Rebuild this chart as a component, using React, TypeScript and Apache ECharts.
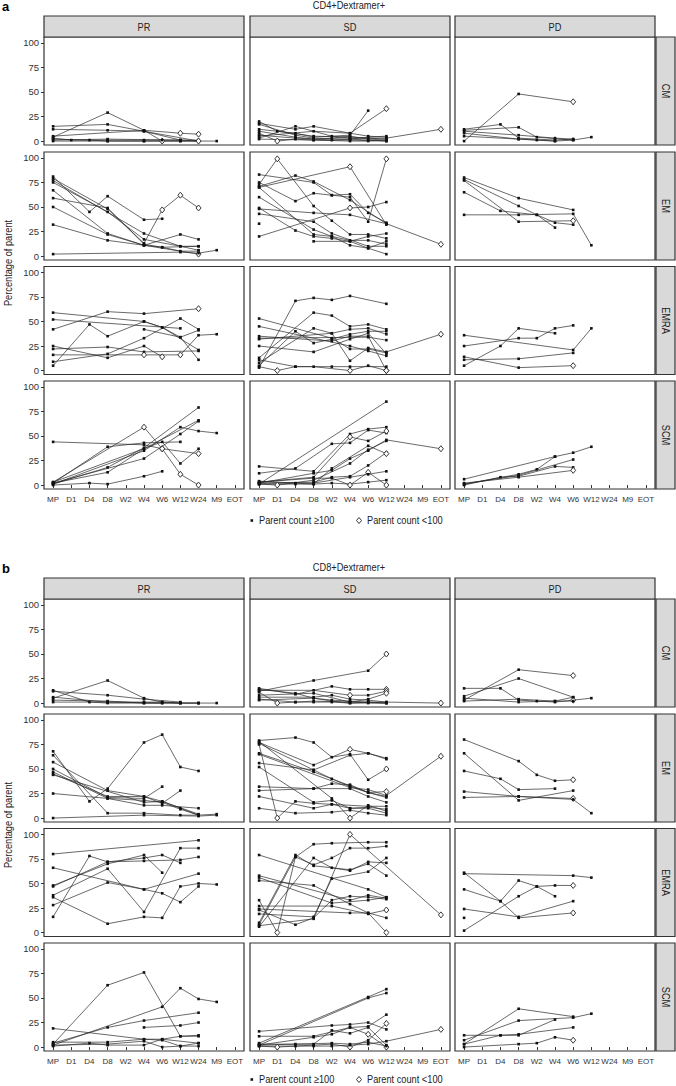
import React, { useEffect, useRef } from "react";
import * as echarts from "echarts";

const TIMEPOINTS = ["MP", "D1", "D4", "D8", "W2", "W4", "W6", "W12", "W24", "M9", "EOT"];
const RESPONSES = ["PR", "SD", "PD"];
const SUBSETS = ["CM", "EM", "EMRA", "SCM"];
const PANEL_LABELS = ["a", "b"];
const PANEL_TITLES = ["CD4+Dextramer+", "CD8+Dextramer+"];
const Y_TICKS = [0, 25, 50, 75, 100];
const LEGEND_LABELS = ["Parent count \u2265100", "Parent count <100"];
const Y_TITLE = "Percentage of parent";

// each line = one subject; point = [timepoint index, percentage, 1 if parent count < 100]
type Pt = number[];
type Line = Pt[];

// ---------- CD4+Dextramer+ ----------
const CD4_PR_CM: Line[] = [
  [[0, 15], [3, 17], [5, 10], [7, 1], [8, 1]],
  [[0, 12], [3, 11], [5, 10], [8, 0]],
  [[0, 4], [3, 29], [5, 11], [6, 0, 1]],
  [[0, 5], [5, 11], [7, 8, 1], [8, 7, 1]],
  [[0, 2], [2, 1], [3, 0], [5, 0], [7, 0], [9, 0]],
  [[0, 0], [3, 0], [5, 0], [7, 0], [8, 0]],
  [[0, 3], [1, 1], [3, 1], [5, 1], [6, 1], [7, 1]],
  [[0, 1], [3, 2], [7, 1], [8, 0, 1]],
];
const CD4_SD_CM: Line[] = [
  [[0, 18], [2, 12], [3, 15], [5, 8], [6, 5], [7, 4]],
  [[0, 20], [1, 10], [3, 5], [5, 4], [7, 2]],
  [[0, 17], [2, 6], [3, 3], [5, 2], [6, 1], [7, 0]],
  [[0, 12], [2, 8], [3, 4], [5, 6], [6, 31]],
  [[0, 5], [3, 10], [5, 8], [7, 33, 1]],
  [[0, 8], [1, 0, 1], [2, 2], [3, 1], [5, 1], [7, 0]],
  [[0, 3], [2, 15], [4, 5], [5, 3], [7, 3], [10, 12, 1]],
  [[0, 2], [3, 1], [5, 0], [6, 0], [7, 1]],
  [[0, 10], [2, 4], [3, 2], [4, 3], [5, 5], [6, 2], [7, 1]],
  [[0, 6], [2, 3], [4, 1], [5, 2], [6, 4], [7, 5]],
];
const CD4_PD_CM: Line[] = [
  [[0, 0], [3, 48], [6, 40, 1]],
  [[0, 12], [2, 17], [3, 3], [5, 1], [6, 2]],
  [[0, 11], [3, 14], [4, 4], [6, 1], [7, 4]],
  [[0, 10], [3, 6], [5, 3], [6, 2]],
  [[0, 8], [3, 2], [4, 1], [5, 0]],
  [[0, 5], [3, 2], [5, 0], [6, 1]],
];
const CD4_PR_EM: Line[] = [
  [[0, 81], [2, 45], [3, 61], [5, 37], [6, 38]],
  [[0, 79], [3, 48], [5, 13], [6, 47, 1], [7, 62, 1], [8, 49, 1]],
  [[0, 77], [5, 23], [7, 10], [8, 10]],
  [[0, 75], [3, 45], [5, 17], [7, 10], [8, 6]],
  [[0, 67], [3, 23], [5, 11], [7, 22], [8, 17]],
  [[0, 59], [3, 49], [5, 12], [6, 9], [7, 5], [8, 5]],
  [[0, 50], [3, 22], [5, 11], [6, 9], [8, 10]],
  [[0, 32], [3, 16], [5, 11], [8, 2, 1]],
  [[0, 2], [7, 4], [8, 3], [9, 6]],
];
const CD4_SD_EM: Line[] = [
  [[0, 73], [1, 99, 1], [3, 51], [4, 36], [5, 22], [6, 22], [7, 18]],
  [[0, 71], [2, 82], [3, 76], [5, 57], [7, 33]],
  [[0, 83], [3, 75], [4, 62], [5, 63], [6, 44], [7, 34]],
  [[0, 70], [5, 91, 1], [7, 32]],
  [[0, 20], [5, 49, 1], [6, 50], [7, 55]],
  [[0, 75], [2, 56], [3, 64], [4, 62], [5, 60], [6, 35], [7, 99, 1]],
  [[0, 49], [2, 26], [3, 20], [4, 18], [5, 15], [6, 8], [7, 2]],
  [[0, 43], [3, 35], [4, 23], [6, 10], [7, 10]],
  [[0, 33]],
  [[0, 60], [3, 27], [4, 20], [5, 16], [6, 16], [7, 12]],
  [[0, 70], [3, 22], [4, 20], [5, 11], [6, 8], [7, 15]],
  [[3, 15], [5, 15], [6, 20], [7, 23]],
  [[0, 48], [3, 44], [5, 42], [7, 33], [10, 12, 1]],
];
const CD4_PD_EM: Line[] = [
  [[0, 80], [3, 59], [6, 47]],
  [[0, 78], [3, 51], [4, 42], [5, 34], [6, 32]],
  [[0, 77], [3, 35], [6, 36, 1]],
  [[0, 65], [2, 46], [4, 42], [5, 29]],
  [[0, 42], [3, 42], [6, 43], [7, 11]],
];
const CD4_PR_EMRA: Line[] = [
  [[0, 59], [5, 50], [6, 44], [8, 21]],
  [[0, 42], [3, 60], [5, 58], [8, 63, 1]],
  [[0, 52], [7, 43]],
  [[0, 5], [2, 47], [3, 35], [5, 50], [6, 44], [7, 34], [8, 41]],
  [[0, 9], [3, 17], [5, 33], [7, 53], [8, 42]],
  [[0, 25], [3, 13], [5, 25], [6, 14, 1]],
  [[0, 22], [3, 24], [5, 19], [8, 20]],
  [[0, 16], [5, 16, 1], [7, 16, 1], [8, 36], [9, 37]],
  [[5, 42], [7, 34], [8, 11]],
];
const CD4_SD_EMRA: Line[] = [
  [[0, 3], [2, 71], [3, 74], [4, 72], [5, 76], [7, 68]],
  [[0, 5], [2, 40], [3, 28], [4, 32], [5, 37], [6, 40], [7, 40]],
  [[0, 13], [3, 59], [4, 56], [5, 45], [6, 47], [7, 42]],
  [[0, 8], [3, 43], [4, 38], [5, 42], [6, 43], [7, 37]],
  [[0, 53], [4, 33], [5, 22], [6, 22], [7, 18]],
  [[0, 45], [5, 25], [6, 20], [7, 15]],
  [[0, 35], [4, 30], [5, 35], [6, 35], [7, 0, 1]],
  [[0, 33], [6, 34], [7, 31]],
  [[0, 25], [3, 19], [5, 32], [6, 38], [7, 17]],
  [[0, 4], [1, 0, 1], [2, 4], [3, 4], [5, 0, 1], [6, 5], [7, 0, 1]],
  [[0, 11], [2, 4], [4, 4], [5, 4], [7, 4]],
  [[0, 32], [4, 38], [5, 10], [6, 23], [7, 19], [10, 37, 1]],
];
const CD4_PD_EMRA: Line[] = [
  [[0, 5], [2, 25], [3, 43], [5, 38]],
  [[0, 25], [3, 33], [4, 33], [5, 43], [6, 46]],
  [[0, 36], [6, 21], [7, 43]],
  [[0, 11], [3, 12], [6, 18]],
  [[0, 14], [3, 3], [6, 5, 1]],
];
const CD4_PR_SCM: Line[] = [
  [[0, 44], [5, 41], [6, 37, 1], [8, 32, 1]],
  [[0, 2], [3, 39], [5, 43], [7, 44]],
  [[0, 1], [3, 18], [5, 38], [8, 79]],
  [[0, 2], [3, 13], [5, 37], [8, 66]],
  [[0, 3], [5, 59, 1], [6, 37, 1], [7, 11, 1], [8, 0, 1]],
  [[0, 1], [5, 35], [7, 59], [8, 55], [9, 53]],
  [[0, 0], [2, 2], [3, 1], [5, 9], [6, 14]],
  [[0, 2], [5, 27], [7, 52], [8, 65]],
  [[0, 3], [6, 44], [7, 22], [8, 37]],
];
const CD4_SD_SCM: Line[] = [
  [[0, 1], [7, 85]],
  [[0, 19], [3, 14], [5, 52], [6, 57], [7, 59]],
  [[0, 12], [2, 17], [4, 42], [5, 43], [6, 56], [7, 53]],
  [[0, 3], [3, 8], [5, 49, 1], [6, 45], [7, 55, 1]],
  [[0, 2], [3, 12], [4, 15], [5, 27], [6, 35], [7, 46], [10, 37, 1]],
  [[0, 1], [1, 0, 1], [3, 5], [5, 22], [6, 36], [7, 45]],
  [[0, 2], [3, 3], [4, 8], [5, 9], [6, 20], [7, 33]],
  [[0, 1], [2, 1], [3, 1], [4, 2], [5, 1], [6, 3], [7, 5]],
  [[0, 3], [3, 7], [4, 7], [5, 0, 1], [6, 13, 1], [7, 0, 1]],
  [[0, 2], [3, 2], [5, 8], [6, 11], [7, 14]],
  [[0, 4], [2, 2], [3, 1], [4, 17], [6, 40], [7, 32, 1]],
];
const CD4_PD_SCM: Line[] = [
  [[0, 6], [5, 29], [6, 33], [7, 39]],
  [[0, 1], [3, 10], [6, 26]],
  [[0, 0], [2, 8], [3, 9], [5, 19], [6, 18]],
  [[0, 2], [3, 8], [6, 15, 1]],
  [[0, 1], [3, 11], [4, 16], [5, 29]],
];

// ---------- CD8+Dextramer+ ----------
const CD8_PR_CM: Line[] = [
  [[0, 13], [2, 1], [3, 0], [5, 0], [6, 0], [7, 0], [8, 0], [9, 0]],
  [[0, 5], [3, 23], [5, 5], [6, 1], [7, 0], [8, 0]],
  [[0, 12], [3, 8], [5, 4], [7, 1]],
  [[0, 3], [3, 2], [5, 0], [8, 0]],
  [[0, 1], [3, 1], [5, 1], [6, 1], [7, 0]],
  [[0, 6], [3, 1], [6, 0]],
];
const CD8_SD_CM: Line[] = [
  [[0, 12], [3, 23], [6, 33], [7, 50, 1]],
  [[0, 15], [2, 9], [4, 17], [5, 14], [6, 14], [7, 14, 1]],
  [[0, 13], [3, 13], [5, 8, 1], [6, 8], [7, 12, 1]],
  [[0, 11], [1, 0, 1], [2, 1], [3, 2], [5, 1], [7, 0]],
  [[0, 8], [3, 10], [5, 1], [6, 4], [7, 10, 1]],
  [[0, 6], [3, 6], [4, 8], [5, 4], [6, 3], [7, 1]],
  [[0, 4], [2, 1], [3, 1], [4, 1], [5, 0], [6, 1], [7, 1], [10, 0, 1]],
  [[0, 3], [3, 5], [4, 3], [5, 2], [6, 1], [7, 0]],
  [[0, 14], [2, 10], [3, 5], [4, 2], [5, 0], [6, 0], [7, 0]],
];
const CD8_PD_CM: Line[] = [
  [[0, 3], [3, 34], [6, 28, 1]],
  [[0, 7], [3, 25], [6, 6]],
  [[0, 15], [2, 15], [3, 3], [4, 2], [5, 1], [6, 3, 1], [7, 5]],
  [[0, 5], [3, 1], [5, 2], [6, 2]],
  [[0, 2], [3, 4], [5, 2], [6, 6]],
];
const CD8_PR_EM: Line[] = [
  [[0, 68], [2, 17], [3, 30], [5, 77], [6, 85], [7, 52], [8, 48]],
  [[0, 64], [3, 5], [5, 5], [7, 3], [8, 3], [9, 4]],
  [[0, 57], [3, 28], [5, 22], [6, 17], [7, 10], [8, 3]],
  [[0, 50], [3, 21], [5, 20], [6, 32]],
  [[0, 47], [3, 20], [5, 13], [6, 13], [8, 10]],
  [[0, 45], [3, 22], [5, 22], [6, 15], [7, 28]],
  [[0, 44], [5, 16], [6, 17], [8, 4]],
  [[0, 25], [3, 20], [5, 18], [6, 16], [7, 9], [8, 3]],
  [[0, 0], [5, 3], [8, 2], [9, 3]],
];
const CD8_SD_EM: Line[] = [
  [[0, 79], [2, 82], [3, 77], [4, 62], [5, 65], [6, 39], [7, 50, 1]],
  [[0, 77], [3, 54], [5, 70, 1], [6, 66], [7, 61]],
  [[0, 76], [3, 49], [4, 40], [5, 32], [6, 26], [7, 27, 1]],
  [[0, 66], [3, 47], [5, 33], [6, 26], [7, 21]],
  [[0, 56], [3, 49], [5, 64], [6, 66], [7, 60]],
  [[0, 52], [3, 16], [4, 18], [5, 10], [6, 11], [7, 9]],
  [[0, 32], [3, 30], [5, 30], [6, 22], [7, 16]],
  [[0, 28], [3, 30], [4, 35], [5, 34], [6, 26], [7, 22]],
  [[0, 22], [3, 10], [4, 14], [5, 10], [6, 10], [7, 5]],
  [[0, 10], [2, 5], [4, 6], [5, 8], [6, 5], [7, 3]],
  [[0, 75], [1, 0, 1], [2, 17], [3, 15], [4, 14], [6, 12], [7, 12]],
  [[0, 78], [4, 20], [5, 0, 1], [6, 13], [7, 7]],
  [[0, 65], [5, 31], [6, 29], [7, 23], [10, 63, 1]],
];
const CD8_PD_EM: Line[] = [
  [[0, 80], [3, 58], [4, 44], [5, 38], [6, 39, 1]],
  [[0, 66], [3, 18], [6, 28]],
  [[0, 48], [2, 40], [3, 29], [5, 30]],
  [[0, 27], [3, 22], [6, 20, 1]],
  [[0, 21], [3, 22], [6, 19], [7, 5]],
];
const CD8_PR_EMRA: Line[] = [
  [[0, 80], [8, 94]],
  [[0, 66], [5, 44], [6, 40], [7, 31], [8, 47]],
  [[0, 48], [3, 70], [5, 79], [6, 61]],
  [[0, 47], [3, 72], [5, 76], [6, 79], [7, 71]],
  [[0, 38], [3, 65], [5, 21], [7, 86], [8, 86]],
  [[0, 16], [2, 78], [3, 72], [5, 73], [7, 74], [8, 77]],
  [[0, 36], [3, 9], [5, 16], [6, 15], [7, 47], [8, 50], [9, 49]],
  [[0, 28], [3, 51], [5, 44], [8, 60]],
];
const CD8_SD_EMRA: Line[] = [
  [[0, 8], [2, 77], [3, 90], [4, 91], [6, 92], [7, 92]],
  [[0, 10], [2, 79], [3, 68], [5, 64], [6, 70], [7, 58]],
  [[0, 6], [3, 76], [4, 66], [5, 63], [6, 72], [7, 71]],
  [[0, 7], [3, 14], [5, 100, 1], [10, 18, 1]],
  [[0, 79], [6, 44], [7, 36]],
  [[0, 58], [5, 33], [6, 38], [7, 35]],
  [[0, 56], [4, 30], [6, 33], [7, 36]],
  [[0, 53], [3, 48], [5, 29], [6, 20], [7, 15]],
  [[0, 33], [1, 0, 1], [2, 77], [3, 69], [4, 76], [5, 86], [6, 86], [7, 88]],
  [[0, 27], [4, 27], [6, 19], [7, 23, 1]],
  [[0, 24], [5, 20], [6, 20], [7, 0, 1]],
  [[0, 19], [3, 16], [4, 55], [6, 62], [7, 76]],
  [[0, 23], [2, 8], [3, 15], [4, 33], [5, 37], [6, 36], [7, 34]],
];
const CD8_PD_EMRA: Line[] = [
  [[0, 60], [6, 58], [7, 56]],
  [[0, 61], [2, 32], [3, 15], [6, 20, 1]],
  [[0, 44], [2, 32], [3, 53], [4, 47], [5, 37]],
  [[0, 2], [3, 37], [4, 47], [5, 48], [6, 48, 1]],
  [[0, 24], [3, 16], [6, 32]],
  [[0, 15]],
];
const CD8_PR_SCM: Line[] = [
  [[0, 3], [3, 63], [5, 76], [7, 11], [8, 12]],
  [[0, 2], [6, 41], [7, 60], [8, 49], [9, 46]],
  [[0, 4], [3, 20], [5, 27], [8, 35]],
  [[5, 20], [7, 22], [8, 25]],
  [[0, 19], [5, 8], [6, 8], [8, 4]],
  [[0, 5], [3, 5], [5, 8], [6, 7], [7, 1], [8, 1]],
  [[0, 1], [2, 4], [3, 2], [5, 2], [6, 8], [7, 11], [8, 11]],
  [[0, 2], [3, 3], [5, 6], [6, 0], [7, 1], [8, 4]],
];
const CD8_SD_SCM: Line[] = [
  [[0, 4], [6, 51], [7, 59]],
  [[0, 2], [6, 50], [7, 55]],
  [[0, 16], [4, 22], [5, 23], [6, 25], [7, 18]],
  [[0, 11], [3, 11], [5, 20], [6, 21], [7, 33]],
  [[0, 2], [3, 10], [4, 13], [5, 20], [6, 13, 1], [7, 0, 1]],
  [[0, 1], [1, 0, 1], [2, 1], [3, 2], [4, 3], [5, 0, 1], [6, 7], [7, 24, 1]],
  [[0, 3], [3, 3], [4, 17], [5, 14], [6, 20], [7, 2]],
  [[0, 1], [3, 1], [4, 1], [5, 2], [6, 3], [7, 6], [10, 18, 1]],
  [[0, 2], [2, 3], [4, 4], [5, 3], [6, 5], [7, 1]],
];
const CD8_PD_SCM: Line[] = [
  [[0, 3], [3, 39], [6, 31]],
  [[0, 7], [3, 27], [6, 30], [7, 34]],
  [[0, 3], [2, 12], [3, 12], [5, 28]],
  [[0, 12], [2, 12], [3, 13], [6, 20]],
  [[0, 0], [3, 3], [4, 4], [5, 10], [6, 7, 1]],
];

// rows = subsets, columns = responses
const CD4: Line[][][] = [
  [CD4_PR_CM, CD4_SD_CM, CD4_PD_CM],
  [CD4_PR_EM, CD4_SD_EM, CD4_PD_EM],
  [CD4_PR_EMRA, CD4_SD_EMRA, CD4_PD_EMRA],
  [CD4_PR_SCM, CD4_SD_SCM, CD4_PD_SCM],
];
const CD8: Line[][][] = [
  [CD8_PR_CM, CD8_SD_CM, CD8_PD_CM],
  [CD8_PR_EM, CD8_SD_EM, CD8_PD_EM],
  [CD8_PR_EMRA, CD8_SD_EMRA, CD8_PD_EMRA],
  [CD8_PR_SCM, CD8_SD_SCM, CD8_PD_SCM],
];
const PANELS = [CD4, CD8];

// ---------- layout ----------
const FONT = '"Liberation Sans Narrow", "Arial Narrow", "Liberation Sans", Arial, sans-serif';
const COL_LEFT = [44, 250, 455];
const COL_W = 200;
const ROW_TOP = [37, 152, 266.5, 381];
const ROW_H = 108;
const PANEL_DY = 562;
const STRIP_H = 21;
const RSTRIP_X = 656;
const RSTRIP_W = 19;
const BORDER = "#333333";
const STRIP_FILL = "#D9D9D9";
const TXT = "#222222";
const NARROW = 0.84;

function txt(x: number, y: number, text: string, size: number, align: string, extra: any = {}) {
  return {
    type: "text",
    x,
    y,
    scaleX: extra.rotation ? 1 : NARROW,
    scaleY: extra.rotation ? NARROW : 1,
    ...extra,
    style: {
      text,
      font: `${extra.bold ? "bold " : ""}${size}px ${FONT}`,
      fill: extra.fill || TXT,
      textAlign: align,
      textVerticalAlign: "middle",
      align,
      verticalAlign: "middle",
    },
  };
}

function buildOption() {
  const grids: any[] = [];
  const xAxes: any[] = [];
  const yAxes: any[] = [];
  const series: any[] = [];
  const graphics: any[] = [];

  PANELS.forEach((panel, p) => {
    const dy = p * PANEL_DY;
    panel.forEach((row, r) => {
      row.forEach((lines, c) => {
        const gi = grids.length;
        grids.push({
          left: COL_LEFT[c],
          top: ROW_TOP[r] + dy,
          width: COL_W,
          height: ROW_H,
          show: true,
          borderColor: BORDER,
          borderWidth: 1.2,
          backgroundColor: "transparent",
        });
        xAxes.push({
          type: "category",
          gridIndex: gi,
          data: TIMEPOINTS,
          boundaryGap: true,
          axisLine: { show: false },
          axisTick: { show: r === 3, alignWithLabel: true, length: 3, lineStyle: { color: BORDER } },
          axisLabel: { show: r === 3, interval: 0, fontSize: 8, fontFamily: FONT, color: "#333", margin: 6 },
          splitLine: { show: false },
        });
        yAxes.push({
          type: "value",
          gridIndex: gi,
          min: -4,
          max: 106,
          axisLine: { show: false },
          axisTick: { show: c === 0, length: 3, customValues: Y_TICKS, lineStyle: { color: BORDER } },
          axisLabel: { show: c === 0, customValues: Y_TICKS, fontSize: 9.5, fontFamily: FONT, color: "#333", margin: 5 },
          splitLine: { show: false },
        });
        lines.forEach((line) => {
          series.push({
            type: "line",
            xAxisIndex: gi,
            yAxisIndex: gi,
            silent: true,
            clip: false,
            showSymbol: true,
            showAllSymbol: true,
            lineStyle: { color: "#2a2a2a", width: 0.7 },
            itemStyle: { color: "#111" },
            data: line.map((pt) =>
              pt[2]
                ? {
                    value: [pt[0], pt[1]],
                    symbol: "diamond",
                    symbolSize: [5, 6],
                    itemStyle: { color: "#fff", borderColor: "#222", borderWidth: 0.9 },
                  }
                : { value: [pt[0], pt[1]], symbol: "rect", symbolSize: 2.6, itemStyle: { color: "#111" } }
            ),
          });
        });
      });
    });

    // column strips
    RESPONSES.forEach((name, c) => {
      const y0 = ROW_TOP[0] + dy - STRIP_H;
      graphics.push({
        type: "rect",
        shape: { x: COL_LEFT[c], y: y0, width: COL_W, height: STRIP_H },
        style: { fill: STRIP_FILL, stroke: BORDER, lineWidth: 1.2 },
      });
      graphics.push(txt(COL_LEFT[c] + COL_W / 2, y0 + STRIP_H / 2 + 0.5, name, 11, "center"));
    });
    // row strips
    SUBSETS.forEach((name, r) => {
      const y0 = ROW_TOP[r] + dy;
      graphics.push({
        type: "rect",
        shape: { x: RSTRIP_X, y: y0, width: RSTRIP_W, height: ROW_H },
        style: { fill: STRIP_FILL, stroke: BORDER, lineWidth: 1.2 },
      });
      graphics.push(txt(RSTRIP_X + RSTRIP_W / 2, y0 + ROW_H / 2, name, 11, "center", { rotation: -Math.PI / 2, scaleX: NARROW, scaleY: 1 }));
    });
    // panel letter and title
    graphics.push(txt(2, 6 + dy, PANEL_LABELS[p], 13, "left", { bold: true, fill: "#000", scaleX: 1 }));
    graphics.push(txt(349, 5 + dy, PANEL_TITLES[p], 11, "center"));
    // y-axis title
    graphics.push(
      txt(8, (ROW_TOP[0] + ROW_TOP[3] + ROW_H) / 2 + dy, Y_TITLE, 11, "center", { rotation: Math.PI / 2, scaleX: NARROW, scaleY: 1 })
    );
    // legend
    const ly = p === 0 ? 520.5 : 1079.5;
    graphics.push({
      type: "rect",
      shape: { x: 250.5, y: ly - 1.3, width: 2.6, height: 2.6 },
      style: { fill: "#111" },
    });
    graphics.push(txt(259, ly, LEGEND_LABELS[0], 11, "left"));
    graphics.push({
      type: "polygon",
      shape: { points: [[359, ly - 3], [361.5, ly], [359, ly + 3], [356.5, ly]] },
      style: { fill: "#fff", stroke: "#222", lineWidth: 0.9 },
    });
    graphics.push(txt(367, ly, LEGEND_LABELS[1], 11, "left"));
  });

  return {
    animation: false,
    backgroundColor: "#ffffff",
    grid: grids,
    xAxis: xAxes,
    yAxis: yAxes,
    series,
    graphic: { elements: graphics },
  };
}

export default function App() {
  const ref = useRef<HTMLDivElement>(null);
  useEffect(() => {
    if (!ref.current) return;
    const chart = echarts.init(ref.current, undefined, { renderer: "svg" });
    chart.setOption(buildOption() as any);
    return () => chart.dispose();
  }, []);
  return (
    <div
      ref={ref}
      style={{ position: "fixed", left: 0, top: 0, width: 676, height: 1086, background: "#fff" }}
    />
  );
}
